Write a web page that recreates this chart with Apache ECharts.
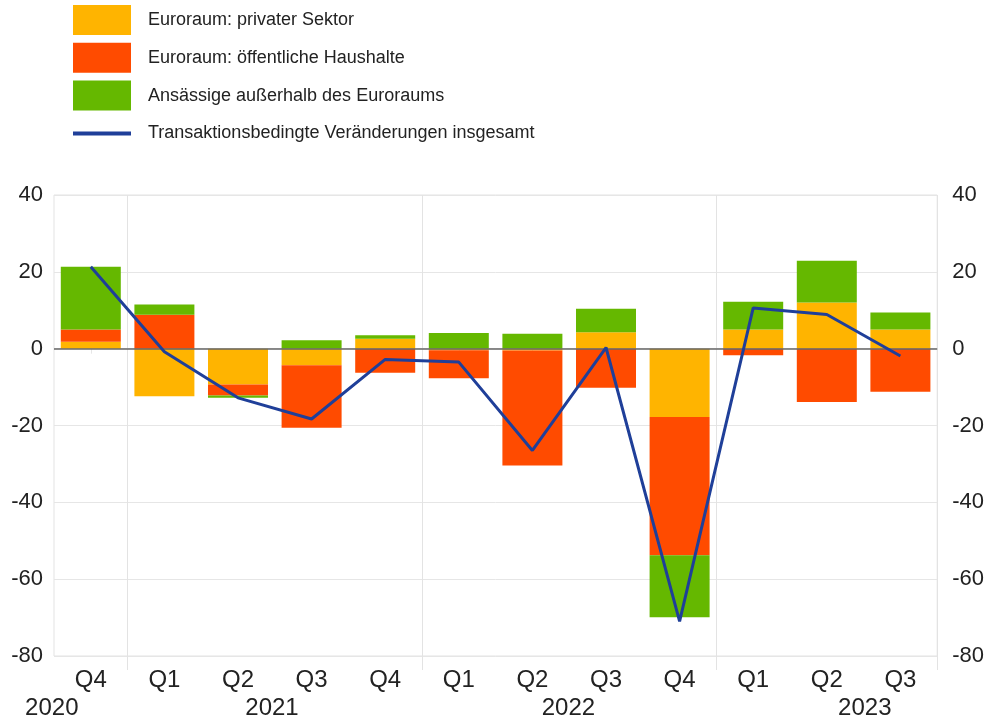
<!DOCTYPE html>
<html>
<head>
<meta charset="utf-8">
<script src="https://cdn.jsdelivr.net/npm/echarts@6/dist/echarts.min.js"></script>
<style>html,body{margin:0;padding:0;background:#fff}#c{width:987px;height:720px}</style>
</head>
<body>
<div id="c"></div>
<script>
const quarters = ['Q4','Q1','Q2','Q3','Q4','Q1','Q2','Q3','Q4','Q1','Q2','Q3'];
const years = ['2020','','2021','','','','2022','','','','2023',''];
const privat = [1.8, -12.4, -9.3, -4.3, 2.6, -0.4, -0.5, 4.3, -17.8, 5.0, 12.0, 5.0];
const oeffentlich = [3.2, 8.8, -2.9, -16.3, -6.3, -7.3, -29.9, -10.2, -36.0, -1.7, -13.9, -11.2];
const ausserhalb = [16.3, 2.7, -0.6, 2.2, 0.9, 4.1, 3.9, 6.1, -16.1, 7.2, 10.9, 4.4];
const insgesamt = [21.3, -0.8, -12.8, -18.3, -2.8, -3.5, -26.5, 0.3, -71.0, 10.6, 8.9, -1.9];
const yTicks = {min: -80, max: 40, interval: 20};
const names = ['Euroraum: privater Sektor','Euroraum: öffentliche Haushalte','Ansässige außerhalb des Euroraums','Transaktionsbedingte Veränderungen insgesamt'];

const chart = echarts.init(document.getElementById('c'));
const font = 'Liberation Sans, Arial, sans-serif';
const yAxisBase = {
  type: 'value', min: yTicks.min, max: yTicks.max, interval: yTicks.interval,
  axisLine: {show: false}, axisTick: {show: false},
  axisLabel: {color: '#222', fontSize: 22, fontFamily: font},
  splitLine: {show: true, lineStyle: {color: '#e6e6e6', width: 1}}
};
const yearShift = {0: -39, 2: 34, 6: 36, 10: 38};
const isBoundary = function (i) { return i === 1 || i === 5 || i === 9; };
chart.setOption({
  animation: false,
  textStyle: {fontFamily: font},
  legend: {
    orient: 'vertical', left: 73, top: 5, padding: 0, itemWidth: 58, itemHeight: 30, itemGap: 7.8,
    textStyle: {fontSize: 18, color: '#222', padding: [0, 0, 0, 12], fontFamily: font},
    data: [
      {name: names[0], icon: 'rect'},
      {name: names[1], icon: 'rect'},
      {name: names[2], icon: 'rect'},
      {name: names[3], icon: 'path://M0,13 L58,13 L58,17 L0,17 Z M0,0 L0.01,0 M0,30 L0.01,30'}
    ]
  },
  grid: {left: 54, right: 49, top: 195, bottom: 64, show: true, borderColor: '#e3e3e3', borderWidth: 1},
  xAxis: [
    {
      type: 'category', data: quarters, position: 'bottom',
      axisLine: {show: false},
      axisTick: {show: true, alignWithLabel: true, length: 5, lineStyle: {color: '#e6e6e6'}},
      splitLine: {show: true, interval: isBoundary, lineStyle: {color: '#e3e3e3'}},
      axisLabel: {interval: 0, color: '#222', fontSize: 24, fontFamily: font, margin: 12}
    },
    {
      type: 'category', data: years, position: 'bottom', offset: 28,
      axisLine: {show: false}, axisTick: {show: false}, splitLine: {show: false},
      axisLabel: {
        interval: 0, color: '#222', fontSize: 24, fontFamily: font, margin: 12,
        formatter: function (v, i) {
          if (!v) return '';
          const s = yearShift[i] || 0;
          return s < 0 ? '{l' + (-s) + '|' + v + '}' : '{r' + s + '|' + v + '}';
        },
        rich: {
          l39: {fontSize: 24, padding: [0, 78, 0, 0]},
          r34: {fontSize: 24, padding: [0, 0, 0, 68]},
          r36: {fontSize: 24, padding: [0, 0, 0, 72]},
          r38: {fontSize: 24, padding: [0, 0, 0, 76]}
        }
      }
    },
    {
      type: 'category', data: quarters, position: 'bottom',
      axisLine: {show: false}, axisLabel: {show: false}, splitLine: {show: false},
      axisTick: {show: true, interval: isBoundary, length: 14, lineStyle: {color: '#e3e3e3'}}
    }
  ],
  yAxis: [
    Object.assign({}, yAxisBase, {position: 'left', axisLabel: Object.assign({}, yAxisBase.axisLabel, {margin: 11})}),
    Object.assign({}, yAxisBase, {position: 'right', splitLine: {show: false}, axisLabel: Object.assign({}, yAxisBase.axisLabel, {margin: 15})})
  ],
  series: [
    {name: names[0], type: 'bar', stack: 'a', data: privat, barWidth: 60, itemStyle: {color: '#FFB400'}},
    {name: names[1], type: 'bar', stack: 'a', data: oeffentlich, barWidth: 60, itemStyle: {color: '#FF4B00'}},
    {name: names[2], type: 'bar', stack: 'a', data: ausserhalb, barWidth: 60, itemStyle: {color: '#65B800'}},
    {
      name: names[3], type: 'line', data: insgesamt, symbol: 'none', z: 5,
      lineStyle: {color: '#1F3F99', width: 3}, itemStyle: {color: '#1F3F99'},
      markLine: {silent: true, symbol: 'none', label: {show: false}, lineStyle: {color: '#666', width: 1.5, type: 'solid'}, data: [{yAxis: 0}], z: 4}
    }
  ]
});
</script>
</body>
</html>
